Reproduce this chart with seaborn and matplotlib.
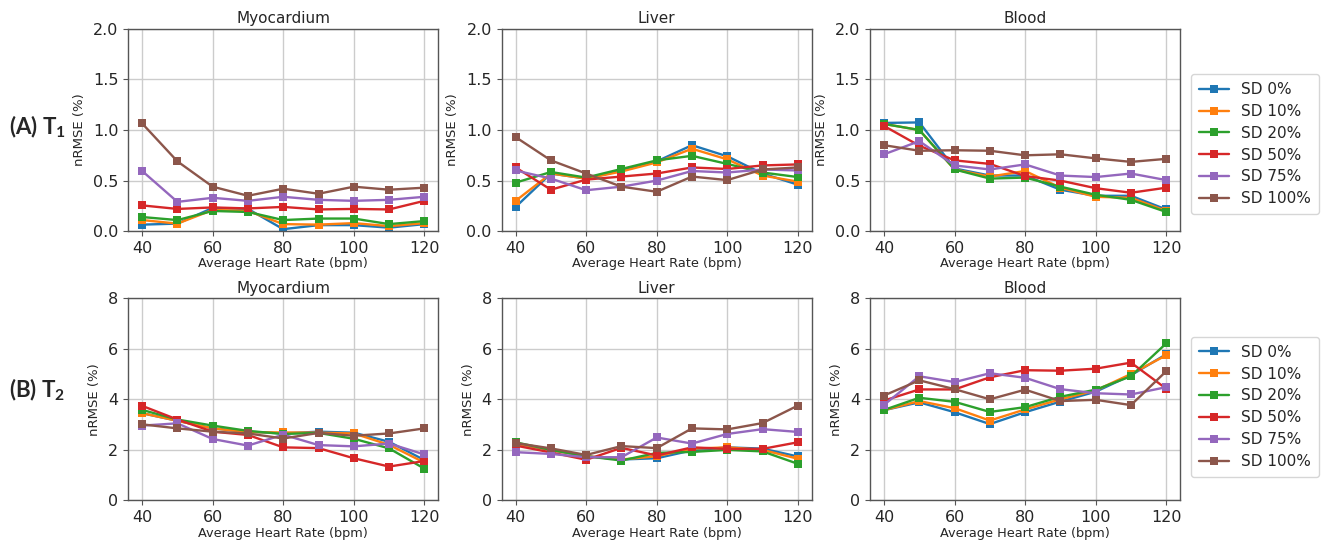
import pandas as pd
import seaborn as sns
import matplotlib.pyplot as plt

heart_rate = [40, 50, 60, 70, 80, 90, 100, 110, 120]
sd_levels = ['SD 0%', 'SD 10%', 'SD 20%', 'SD 50%', 'SD 75%', 'SD 100%']
tissues = ['Myocardium', 'Liver', 'Blood']

# T1 nRMSE (%)
t1_myo = [
    [0.065, 0.075, 0.23, 0.22, 0.02, 0.06, 0.06, 0.035, 0.07],
    [0.11, 0.075, 0.21, 0.20, 0.07, 0.065, 0.08, 0.05, 0.08],
    [0.14, 0.11, 0.20, 0.19, 0.11, 0.125, 0.125, 0.07, 0.10],
    [0.255, 0.22, 0.235, 0.225, 0.24, 0.215, 0.22, 0.215, 0.30],
    [0.595, 0.29, 0.33, 0.30, 0.34, 0.31, 0.30, 0.31, 0.34],
    [1.065, 0.69, 0.44, 0.35, 0.42, 0.37, 0.44, 0.41, 0.43],
]
t1_liver = [
    [0.24, 0.57, 0.52, 0.60, 0.69, 0.85, 0.74, 0.57, 0.46],
    [0.30, 0.57, 0.52, 0.59, 0.68, 0.815, 0.71, 0.55, 0.49],
    [0.48, 0.585, 0.53, 0.615, 0.70, 0.745, 0.665, 0.58, 0.535],
    [0.63, 0.41, 0.51, 0.54, 0.57, 0.63, 0.615, 0.65, 0.66],
    [0.60, 0.52, 0.405, 0.44, 0.50, 0.595, 0.58, 0.61, 0.60],
    [0.93, 0.70, 0.57, 0.44, 0.39, 0.54, 0.505, 0.61, 0.63],
]
t1_blood = [
    [1.07, 1.075, 0.62, 0.55, 0.55, 0.41, 0.35, 0.35, 0.215],
    [1.06, 1.00, 0.61, 0.54, 0.595, 0.43, 0.34, 0.33, 0.20],
    [1.06, 1.00, 0.61, 0.52, 0.53, 0.44, 0.36, 0.31, 0.19],
    [1.04, 0.845, 0.70, 0.665, 0.545, 0.50, 0.425, 0.38, 0.43],
    [0.76, 0.89, 0.65, 0.61, 0.66, 0.55, 0.535, 0.57, 0.505],
    [0.85, 0.795, 0.80, 0.795, 0.75, 0.76, 0.72, 0.685, 0.715],
]

# T2 nRMSE (%)
t2_myo = [
    [3.45, 3.15, 2.85, 2.72, 2.65, 2.72, 2.68, 2.32, 1.60],
    [3.45, 3.15, 2.85, 2.70, 2.69, 2.68, 2.65, 2.20, 1.50],
    [3.58, 3.20, 2.96, 2.75, 2.63, 2.67, 2.44, 2.06, 1.26],
    [3.74, 3.20, 2.72, 2.59, 2.10, 2.07, 1.67, 1.34, 1.56],
    [2.96, 3.05, 2.43, 2.17, 2.60, 2.19, 2.14, 2.25, 1.82],
    [3.01, 2.85, 2.72, 2.65, 2.45, 2.67, 2.56, 2.65, 2.85],
]
t2_liver = [
    [2.25, 2.00, 1.75, 1.62, 1.67, 1.98, 2.10, 2.05, 1.74],
    [2.25, 2.00, 1.75, 1.62, 1.75, 2.05, 2.10, 2.00, 1.65],
    [2.30, 2.00, 1.75, 1.58, 1.88, 1.92, 2.00, 1.94, 1.45],
    [2.17, 1.90, 1.61, 2.08, 1.78, 2.10, 2.04, 2.04, 2.30],
    [1.91, 1.84, 1.71, 1.71, 2.49, 2.25, 2.63, 2.82, 2.71],
    [2.27, 2.06, 1.80, 2.15, 2.07, 2.85, 2.81, 3.06, 3.75],
]
t2_blood = [
    [3.57, 3.88, 3.49, 3.02, 3.49, 3.91, 4.30, 4.95, 5.78],
    [3.57, 3.93, 3.65, 3.16, 3.60, 4.00, 4.35, 5.00, 5.74],
    [3.58, 4.06, 3.90, 3.50, 3.69, 4.10, 4.38, 4.91, 6.21],
    [3.95, 4.39, 4.39, 4.87, 5.15, 5.13, 5.21, 5.45, 4.42],
    [3.78, 4.91, 4.68, 5.03, 4.85, 4.40, 4.24, 4.19, 4.48],
    [4.15, 4.75, 4.40, 4.00, 4.38, 3.93, 3.98, 3.77, 5.11],
]

rows = [
    {'data': [t1_myo, t1_liver, t1_blood], 'ylim': (0, 2), 'yticks': [0.0, 0.5, 1.0, 1.5, 2.0], 'fmt': '{:.1f}'},
    {'data': [t2_myo, t2_liver, t2_blood], 'ylim': (0, 8), 'yticks': [0, 2, 4, 6, 8], 'fmt': '{:d}'},
]


def to_long(values):
    recs = []
    for sd, series in zip(sd_levels, values):
        for hr, v in zip(heart_rate, series):
            recs.append({'hr': hr, 'nrmse': v, 'sd': sd})
    return pd.DataFrame(recs)


sns.set_style('whitegrid')
plt.rcParams['font.family'] = ['DejaVu Sans']
plt.rcParams['mathtext.fontset'] = 'custom'
plt.rcParams['mathtext.bf'] = 'Lato:bold'
plt.rcParams['mathtext.rm'] = 'Lato'
palette = sns.color_palette('tab10', 6)

fig = plt.figure(figsize=(13.31, 5.44), dpi=100)

lefts = [0.0962, 0.3768, 0.6536]
bottoms = [0.575, 0.080]
w, h = 0.2332, 0.372

handles = labels = None
for r, row in enumerate(rows):
    for c, tissue in enumerate(tissues):
        ax = fig.add_axes([lefts[c], bottoms[r], w, h])
        df = to_long(row['data'][c])
        sns.lineplot(data=df, x='hr', y='nrmse', hue='sd', hue_order=sd_levels,
                     palette=palette, marker='s', markersize=5.5, markeredgewidth=0,
                     linewidth=1.7, ax=ax)
        ax.set_ylim(*row['ylim'])
        ax.set_yticks(row['yticks'])
        ax.set_yticklabels([row['fmt'].format(t) for t in row['yticks']])
        ax.set_xlim(36, 124)
        ax.set_xticks([40, 60, 80, 100, 120])
        ax.tick_params(labelsize=11.5, length=3.5, left=True, bottom=True, color='#555555')
        ax.set_title(tissue, fontsize=11, pad=4)
        ax.set_xlabel('Average Heart Rate (bpm)', fontsize=9.3, labelpad=1)
        ax.set_ylabel('nRMSE (%)', fontsize=9.5, labelpad=5)
        ax.grid(color='#cccccc', linewidth=1)
        for s in ax.spines.values():
            s.set_color('#555555')
            s.set_linewidth(1)
        if handles is None:
            handles, labels = ax.get_legend_handles_labels()
        ax.get_legend().remove()

for yb in [0.735, 0.252]:
    fig.legend(handles, labels, loc='center left', bbox_to_anchor=(0.889, yb),
               fontsize=11, frameon=True, edgecolor='#cccccc', handlelength=2.0,
               borderpad=0.5, labelspacing=0.45)

fig.text(0.007, 0.766, r'(A) T$_\mathbf{1}$', fontsize=16, fontweight='bold',
         family='Lato', va='center')
fig.text(0.007, 0.283, r'(B) T$_\mathbf{2}$', fontsize=16, fontweight='bold',
         family='Lato', va='center')

fig.savefig('out.png', dpi=100)
